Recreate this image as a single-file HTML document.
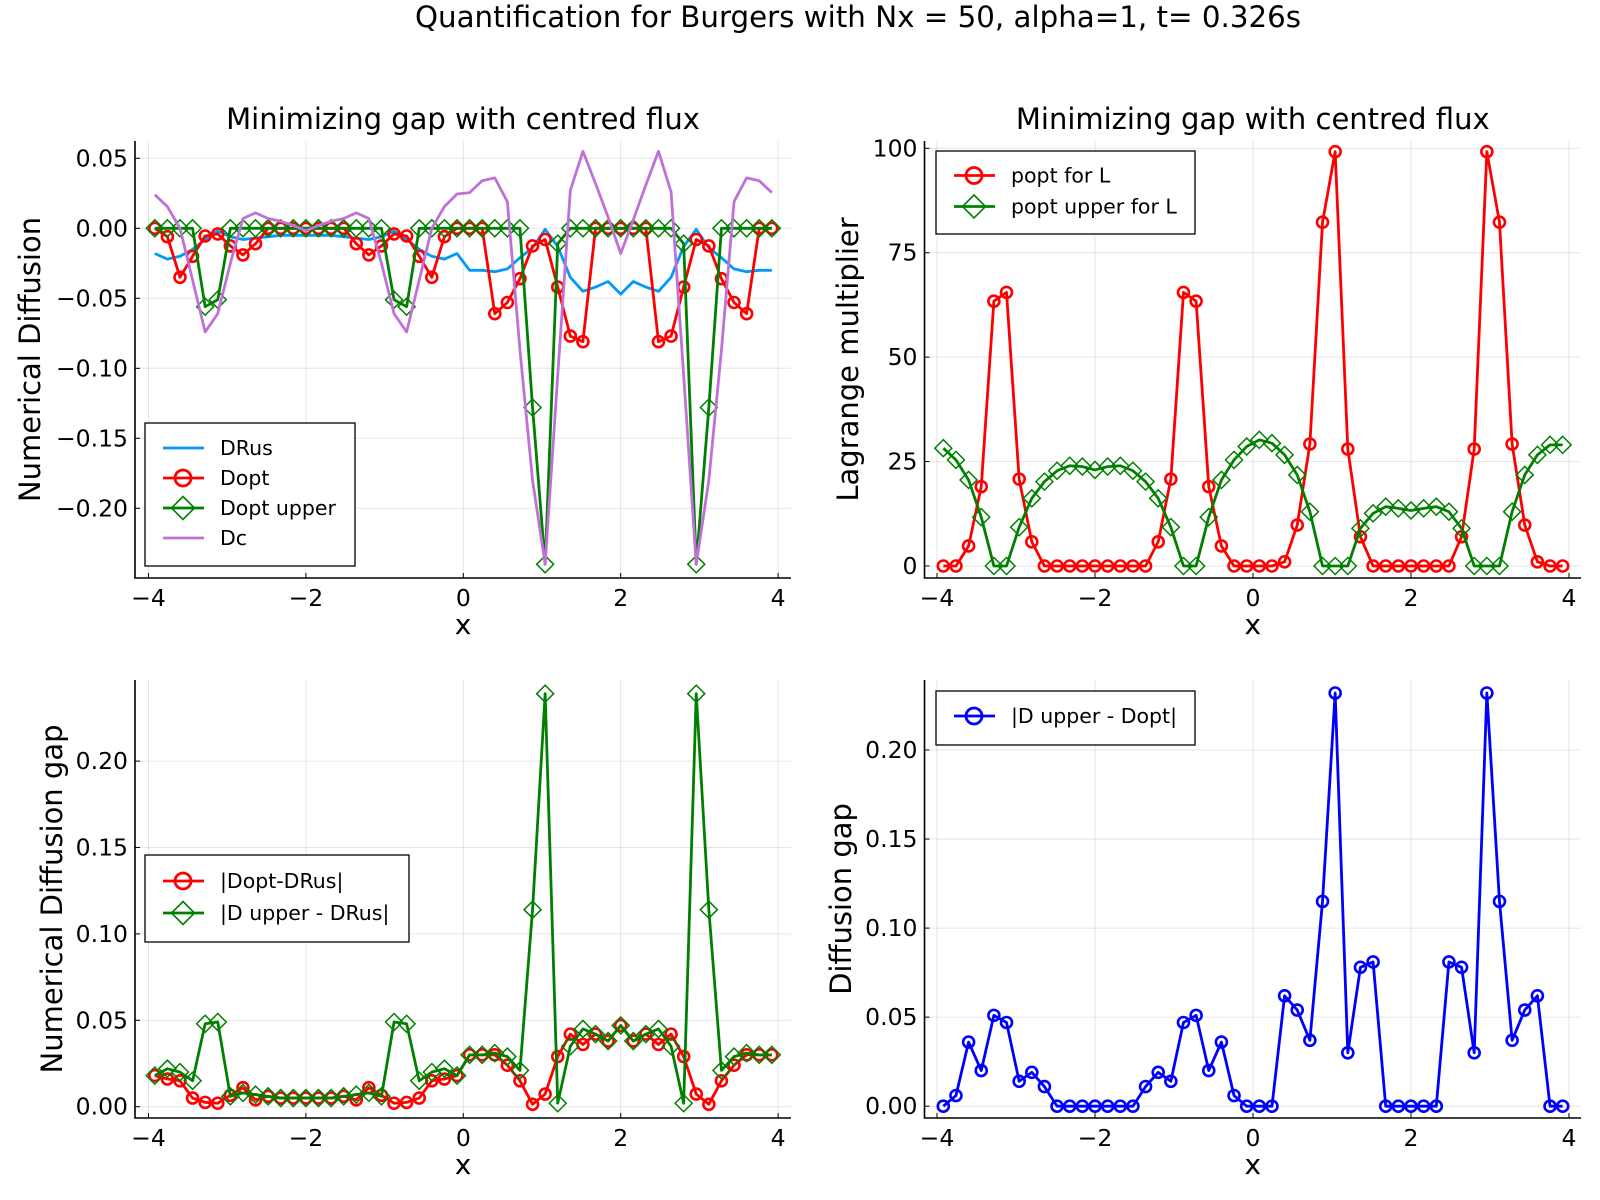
<!DOCTYPE html>
<html><head><meta charset="utf-8"><title>Quantification for Burgers</title>
<style>
html,body{margin:0;padding:0;background:#fff;}
svg{display:block;font-family:"DejaVu Sans","Liberation Sans",sans-serif;}
</style></head>
<body>
<svg id="fig" width="1600" height="1200" viewBox="0 0 1600 1200" xmlns="http://www.w3.org/2000/svg">
<rect width="1600" height="1200" fill="#fff"/>
<text x="858" y="27" font-size="29.3" text-anchor="middle" fill="#000">Quantification for Burgers with Nx = 50, alpha=1, t= 0.326s</text>
</svg>
<script>
// ---- data ----
const xVals = [-3.92,-3.76,-3.6,-3.44,-3.28,-3.12,-2.96,-2.8,-2.64,-2.48,-2.32,-2.16,-2.0,-1.84,-1.68,-1.52,-1.36,-1.2,-1.04,-0.88,-0.72,-0.56,-0.4,-0.24,-0.08,0.08,0.24,0.4,0.56,0.72,0.88,1.04,1.2,1.36,1.52,1.68,1.84,2.0,2.16,2.32,2.48,2.64,2.8,2.96,3.12,3.28,3.44,3.6,3.76,3.92];
const dRus = [-0.018,-0.022,-0.020,-0.015,-0.008,-0.002,-0.006,-0.008,-0.007,-0.006,-0.005,-0.005,-0.005,-0.005,-0.005,-0.006,-0.007,-0.008,-0.006,-0.002,-0.008,-0.015,-0.020,-0.022,-0.018,-0.030,-0.030,-0.031,-0.029,-0.021,-0.014,-0.0007,-0.013,-0.035,-0.045,-0.042,-0.038,-0.047,-0.038,-0.042,-0.045,-0.035,-0.013,-0.0007,-0.014,-0.021,-0.029,-0.031,-0.030,-0.030];
const dOpt = [0,-0.006,-0.035,-0.020,-0.0055,-0.004,-0.0126,-0.019,-0.011,0,0,0,0,0,0,0,-0.011,-0.019,-0.0126,-0.004,-0.0055,-0.020,-0.035,-0.006,0,0,0,-0.061,-0.053,-0.036,-0.0126,-0.008,-0.042,-0.077,-0.081,0,0,0,0,0,-0.081,-0.077,-0.042,-0.008,-0.0126,-0.036,-0.053,-0.061,0,0];
const dOptUpper = [0,0,0,0,-0.056,-0.051,0,0,0,0,0,0,0,0,0,0,0,0,0,-0.051,-0.056,0,0,0,0,0,0,0,0,0,-0.128,-0.24,-0.011,0,0,0,0,0,0,0,0,0,-0.011,-0.24,-0.128,0,0,0,0,0];
const dC = [0.024,0.0155,0,-0.037,-0.074,-0.061,-0.025,0.007,0.011,0.007,0.005,0.002,-0.0017,0.002,0.005,0.007,0.011,0.007,-0.025,-0.061,-0.074,-0.037,0,0.0155,0.0245,0.0255,0.034,0.036,0.019,-0.087,-0.18,-0.24,-0.105,0.027,0.055,0.032,0.008,-0.018,0.006,0.031,0.055,0.026,-0.105,-0.24,-0.18,-0.087,0.019,0.036,0.034,0.0255];
const poptL = [0,0,4.8,19,63.4,65.5,20.8,5.8,0,0,0,0,0,0,0,0,0,5.8,20.8,65.5,63.4,19,4.8,0,0,0,0,1.0,9.8,29.2,82.3,99.2,28.0,7.0,0,0,0,0,0,0,0,7.0,28.0,99.2,82.3,29.2,9.8,1.0,0,0];
const poptUpperL = [28.2,25.4,20.6,11.7,0,0,9.3,16.2,20.2,22.8,24,23.8,23,23.8,24,22.8,20.2,16.2,9.3,0,0,11.7,20.6,25.4,28.6,30.2,29.4,26.6,21.8,13.0,0,0,0,9.0,12.6,14.2,13.8,13.3,13.8,14.2,13.0,9.0,0,0,0,13.0,21.8,26.6,29.0,29.0];
const gapOptRus = [0.018,0.016,0.015,0.005,0.0025,0.002,0.0066,0.011,0.004,0.006,0.005,0.005,0.005,0.005,0.005,0.006,0.004,0.011,0.0066,0.002,0.0025,0.005,0.015,0.016,0.018,0.030,0.030,0.030,0.024,0.015,0.0014,0.0073,0.029,0.042,0.036,0.042,0.038,0.047,0.038,0.042,0.036,0.042,0.029,0.0073,0.0014,0.015,0.024,0.030,0.030,0.030];
const gapUpperRus = [0.018,0.022,0.020,0.015,0.048,0.049,0.006,0.008,0.007,0.006,0.005,0.005,0.005,0.005,0.005,0.006,0.007,0.008,0.006,0.049,0.048,0.015,0.020,0.022,0.018,0.030,0.030,0.031,0.029,0.021,0.114,0.239,0.002,0.035,0.045,0.042,0.038,0.047,0.038,0.042,0.045,0.035,0.002,0.239,0.114,0.021,0.029,0.031,0.030,0.030];
const gapUpperOpt = [0,0.006,0.036,0.020,0.051,0.047,0.014,0.019,0.011,0,0,0,0,0,0,0,0.011,0.019,0.014,0.047,0.051,0.020,0.036,0.006,0,0,0,0.062,0.054,0.037,0.115,0.232,0.030,0.078,0.081,0,0,0,0,0,0.081,0.078,0.030,0.232,0.115,0.037,0.054,0.062,0,0];
const xTicks = [-4,-2,0,2,4];
const xTickLabels = ["\u22124","\u22122","0","2","4"];
const yTicks1 = [0.05,0,-0.05,-0.10,-0.15,-0.20];
const yTickLabels1 = ["0.05","0.00","\u22120.05","\u22120.10","\u22120.15","\u22120.20"];
const yTicks2 = [0,25,50,75,100];
const yTickLabels2 = ["0","25","50","75","100"];
const yTicks3 = [0,0.05,0.10,0.15,0.20];
const yTickLabels3 = ["0.00","0.05","0.10","0.15","0.20"];

const NS = "http://www.w3.org/2000/svg";
const fig = document.getElementById('fig');
function mk(tag, attrs, parent){
  const e = document.createElementNS(NS, tag);
  for (const k in attrs) e.setAttribute(k, attrs[k]);
  (parent||fig).appendChild(e);
  return e;
}
function circleMarker(g, x, y, color){
  return mk('circle', {cx:x, cy:y, r:5.5, fill:'none', stroke:color, 'stroke-width':2.6}, g);
}
function diamondMarker(g, x, y, color){
  const d = 8.5;
  return mk('polygon', {points:`${x},${y-d} ${x+d},${y} ${x},${y+d} ${x-d},${y}`, fill:'none', stroke:color, 'stroke-width':1.5}, g);
}

function makePanel(cfg){
  const g = mk('g', {});
  
  
  const sx = v => cfg.x0 + v*cfg.xs;
  const sy = v => cfg.y0 - v*cfg.ys;
  xTicks.forEach((t,i) => {
    const l = mk('line', {x1:sx(t), x2:sx(t), y1:cfg.T, y2:cfg.B, stroke:'#000', 'stroke-opacity':0.1, 'stroke-width':1}, g);
    
    
    const tk = mk('line', {x1:sx(t), x2:sx(t), y1:cfg.B, y2:cfg.B-5, stroke:'#000', 'stroke-width':1}, g);
    
    
    const tx = mk('text', {x:sx(t), y:cfg.B+28, 'font-size':23.5, 'text-anchor':'middle'}, g);
    tx.textContent = xTickLabels[i];
    
    
  });
  cfg.yTicks.forEach((t,i) => {
    const l = mk('line', {x1:cfg.L, x2:cfg.R, y1:sy(t), y2:sy(t), stroke:'#000', 'stroke-opacity':0.1, 'stroke-width':1}, g);
    
    
    const tk = mk('line', {x1:cfg.L, x2:cfg.L+5, y1:sy(t), y2:sy(t), stroke:'#000', 'stroke-width':1}, g);
    
    
    const tx = mk('text', {x:cfg.L-7, y:sy(t)+8, 'font-size':23.5, 'text-anchor':'end'}, g);
    tx.textContent = cfg.yTickLabels[i];
    
    
  });
  const ax = mk('polyline', {points:`${cfg.L},${cfg.T} ${cfg.L},${cfg.B} ${cfg.R},${cfg.B}`, fill:'none', stroke:'#000', 'stroke-width':1.6}, g);
  
  
  if (cfg.title){
    const t = mk('text', {x:(cfg.L+cfg.R)/2, y:cfg.T-12, 'font-size':29, 'text-anchor':'middle'}, g);
    t.textContent = cfg.title;
    
    
  }
  const xl = mk('text', {x:(cfg.L+cfg.R)/2, y:cfg.B+56, 'font-size':28, 'text-anchor':'middle'}, g);
  xl.textContent = 'x';
  
  
  const yl = mk('text', {x:0, y:0, 'font-size':29, 'text-anchor':'middle', transform:`translate(${cfg.ylx},${(cfg.T+cfg.B)/2}) rotate(-90)`}, g);
  yl.textContent = cfg.ylabel;
  
  
  const clip = mk('clipPath', {id:cfg.name+'-clip'}, g);
  mk('rect', {x:cfg.L, y:cfg.T-12, width:cfg.R-cfg.L+10, height:cfg.B-cfg.T+12}, clip);
  cfg.series.forEach(s => {
    const sg = mk('g', {'clip-path':`url(#${cfg.name}-clip)`}, g);
    
    
    const pts = s.data.map((v,i) => `${sx(xVals[i]).toFixed(2)},${sy(v).toFixed(2)}`).join(' ');
    const pl = mk('polyline', {points:pts, fill:'none', stroke:s.color, 'stroke-width':s.lw||2.8, 'stroke-linejoin':'round'}, sg);
    
    
    if (s.marker){
      s.data.forEach((v,i) => {
        const m = s.marker === 'circle' ? circleMarker(sg, sx(xVals[i]), sy(v), s.color) : diamondMarker(sg, sx(xVals[i]), sy(v), s.color);
        
        
      });
    }
  });
  const lg = mk('g', {}, g);
  
  
  const L = cfg.legend;
  const box = mk('rect', {x:L.x, y:L.y, width:L.w, height:L.h, fill:'#fff', stroke:'#000', 'stroke-width':1.3}, lg);
  
  
  cfg.series.forEach((s,i) => {
    const yy = L.y + L.first + i*L.step;
    const eg = mk('g', {}, lg);
    
    
    mk('line', {x1:L.x+18, x2:L.x+59, y1:yy, y2:yy, stroke:s.color, 'stroke-width':2.8}, eg);
    if (s.marker === 'circle'){ mk('circle', {cx:L.x+38, cy:yy, r:8, fill:'none', stroke:s.color, 'stroke-width':2.8}, eg); }
    if (s.marker === 'diamond'){ const d=11.5, x=L.x+38; mk('polygon', {points:`${x},${yy-d} ${x+d},${yy} ${x},${yy+d} ${x-d},${yy}`, fill:'none', stroke:s.color, 'stroke-width':1.6}, eg); }
    const t = mk('text', {x:L.x+75, y:yy+7, 'font-size':20.5}, eg);
    t.textContent = s.label;
  });
}

makePanel({name:'panel-numerical-diffusion', L:135, R:791, T:141, B:578, x0:463.3, xs:78.7, y0:228.3, ys:1400,
  yTicks:yTicks1, yTickLabels:yTickLabels1, title:'Minimizing gap with centred flux', ylabel:'Numerical Diffusion', ylx:40,
  series:[
    {name:'series-drus', label:'DRus', data:dRus, color:'#009AFA'},
    {name:'series-dopt', label:'Dopt', data:dOpt, color:'#FF0000', marker:'circle'},
    {name:'series-dopt-upper', label:'Dopt upper', data:dOptUpper, color:'#008000', marker:'diamond'},
    {name:'series-dc', label:'Dc', data:dC, color:'#C071D6'}
  ],
  legend:{x:145, y:423, w:210, h:143, first:25, step:30}});

makePanel({name:'panel-lagrange', L:924.5, R:1581, T:141, B:578, x0:1253, xs:79, y0:566, ys:4.177,
  yTicks:yTicks2, yTickLabels:yTickLabels2, title:'Minimizing gap with centred flux', ylabel:'Lagrange multiplier', ylx:858,
  series:[
    {name:'series-popt-l', label:'popt for L', data:poptL, color:'#FF0000', marker:'circle'},
    {name:'series-popt-upper-l', label:'popt upper for L', data:poptUpperL, color:'#008000', marker:'diamond'}
  ],
  legend:{x:936, y:151, w:259, h:83, first:24.5, step:31}});

makePanel({name:'panel-diffusion-gap', L:135, R:791, T:680, B:1118, x0:463.3, xs:78.7, y0:1106.7, ys:1728,
  yTicks:yTicks3, yTickLabels:yTickLabels3, title:'', ylabel:'Numerical Diffusion gap', ylx:62,
  series:[
    {name:'series-gap-dopt-drus', label:'|Dopt-DRus|', data:gapOptRus, color:'#FF0000', marker:'circle'},
    {name:'series-gap-upper-drus', label:'|D upper - DRus|', data:gapUpperRus, color:'#008000', marker:'diamond'}
  ],
  legend:{x:145, y:855, w:264, h:87, first:26, step:32}});

makePanel({name:'panel-upper-opt-gap', L:924.5, R:1581, T:680, B:1118, x0:1253, xs:79, y0:1106.2, ys:1781,
  yTicks:yTicks3, yTickLabels:yTickLabels3, title:'', ylabel:'Diffusion gap', ylx:851,
  series:[
    {name:'series-gap-upper-dopt', label:'|D upper - Dopt|', data:gapUpperOpt, color:'#0000FF', marker:'circle'}
  ],
  legend:{x:936, y:691, w:259, h:54, first:25, step:31}});
</script>
</body></html>
